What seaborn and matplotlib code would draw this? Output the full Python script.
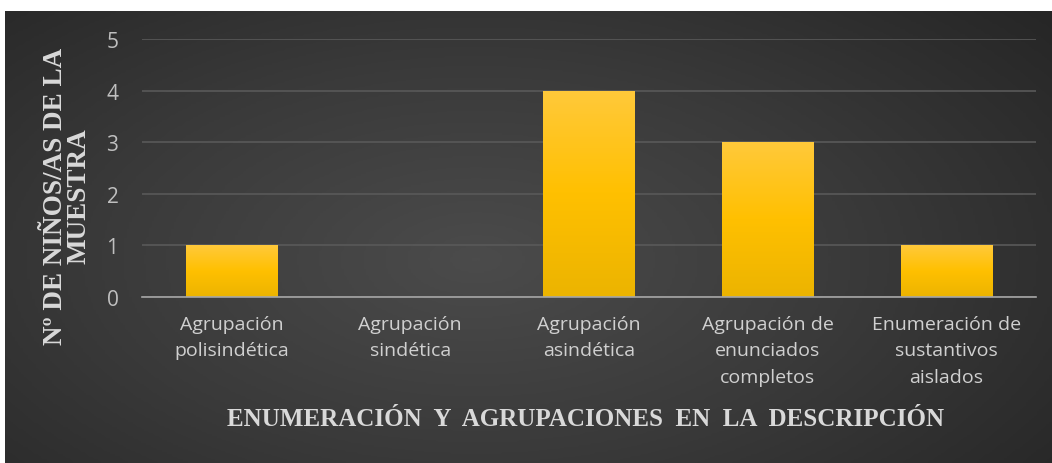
import numpy as np
import pandas as pd
import matplotlib
matplotlib.use("Agg")
import matplotlib.pyplot as plt
import seaborn as sns
from matplotlib.colors import LinearSegmentedColormap

categories = ["Agrupación\npolisindética", "Agrupación\nsindética", "Agrupación\nasindética",
              "Agrupación de\nenunciados\ncompletos", "Enumeración de\nsustantivos\naislados"]
values = [1, 0, 4, 3, 1]
y_ticks = [0, 1, 2, 3, 4, 5]
x_title = "ENUMERACIÓN  Y  AGRUPACIONES  EN  LA  DESCRIPCIÓN"
y_title = "Nº DE NIÑOS/AS DE LA\nMUESTRA"

sns.set_theme(style="white")
plt.rcParams['font.family'] = ['Open Sans', 'DejaVu Sans']

W, H = 1052, 464
fig = plt.figure(figsize=(W / 100, H / 100), dpi=100, facecolor="white")

# background radial gradient panel
bg = fig.add_axes([5 / W, 0, (W - 5) / W, (H - 12) / H], zorder=0)
gx, gy = np.meshgrid(np.linspace(0, 1, 400), np.linspace(0, 1, 200))
cx, cy = 0.45, 0.45
r = np.sqrt(((gx - cx) / 0.75) ** 2 + ((gy - cy) / 0.9) ** 2)
r = np.clip(r, 0, 1)
cmap_bg = LinearSegmentedColormap.from_list("bg", ["#4b4b4b", "#3a3a3a", "#262626"])
bg.imshow(r, cmap=cmap_bg, aspect="auto", extent=[0, 1, 0, 1], origin="lower")
bg.set_axis_off()

ax = fig.add_axes([142 / W, 1 - 298 / H, (1036 - 142) / W, (298 - 40) / H], zorder=1)
ax.patch.set_alpha(0)

df = pd.DataFrame({"cat": categories, "val": values})
sns.barplot(data=df, x="cat", y="val", color="#ffc000", width=0.51, ax=ax, zorder=3,
            saturation=1, linewidth=0, edgecolor="none")

# vertical gradient inside bars
cmap_bar = LinearSegmentedColormap.from_list("bar", ["#ecb400", "#ffc000", "#ffc93a"])
grad = np.linspace(0, 1, 100).reshape(-1, 1)
for p in ax.patches:
    x0, y0 = p.get_x(), p.get_y()
    w, h = p.get_width(), p.get_height()
    if h <= 0:
        continue
    im = ax.imshow(grad, cmap=cmap_bar, aspect="auto", origin="lower",
                   extent=[x0, x0 + w, y0, y0 + h], zorder=4)
    im.set_clip_path(p)

ax.set_xlim(-0.5, len(categories) - 0.5)
ax.set_ylim(0, 5)
ax.set_yticks(y_ticks)
ax.yaxis.grid(True, color="#595959", linewidth=1.2, zorder=0)
ax.set_axisbelow(True)
for s in ["left", "right", "top"]:
    ax.spines[s].set_visible(False)
ax.spines["bottom"].set_color("#a6a6a6")
ax.spines["bottom"].set_linewidth(1.2)
ax.spines["bottom"].set_zorder(5)

ax.set_xticks(range(len(categories)))
ax.set_xticklabels(categories, color="#d0d0d0", fontsize=14, linespacing=1.6)
ax.tick_params(axis="x", which="major", length=0, pad=13)
ax.set_xticks(np.arange(-0.5, len(categories), 1.0), minor=True)
ax.tick_params(axis="x", which="minor", length=6, width=1.2, color="#a6a6a6", direction="out")
ax.tick_params(axis="y", length=0, pad=17, labelcolor="#bfbfbf", labelsize=15)

ax.set_xlabel("")
ax.set_ylabel("")

fig.text(586 / W, 1 - 420 / H, x_title, ha="center", va="center",
         family="Liberation Serif", fontweight="bold", fontsize=18, color="#d9d9d9")
fig.text(67 / W, 1 - 196 / H, y_title, ha="center", va="center", rotation=90,
         family="Liberation Serif", fontweight="bold", fontsize=19.5, color="#d9d9d9",
         linespacing=0.9, multialignment="center")

fig.savefig("out.png", dpi=100, facecolor="white")
